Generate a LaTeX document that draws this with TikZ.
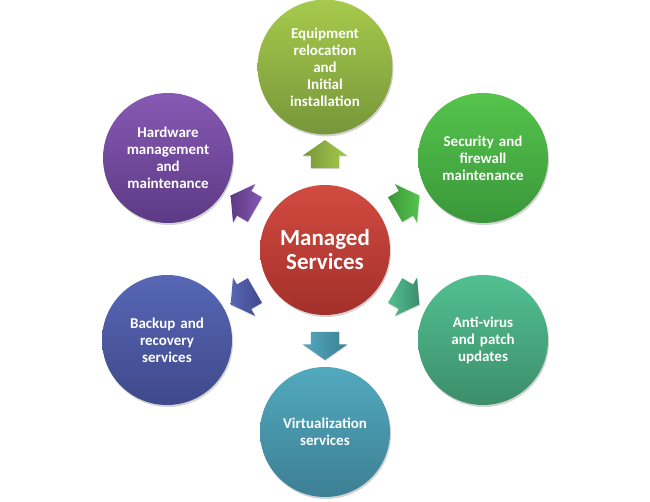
\documentclass[tikz,border=0pt]{standalone}
\usepackage{fontspec}
\setmainfont{Carlito}
\usetikzlibrary{shapes,arrows,positioning,calc,shadows}

\definecolor{redtop}{HTML}{D24B40}\definecolor{redbot}{HTML}{A3302B}
\definecolor{olivetop}{HTML}{A6CA4C}\definecolor{olivebot}{HTML}{77963A}
\definecolor{greentop}{HTML}{55C44C}\definecolor{greenbot}{HTML}{3A973A}
\definecolor{teatop}{HTML}{52C091}\definecolor{teabot}{HTML}{3C8E6A}
\definecolor{cyantop}{HTML}{52A9BE}\definecolor{cyanbot}{HTML}{3D7F94}
\definecolor{bluetop}{HTML}{5767B5}\definecolor{bluebot}{HTML}{3F498B}
\definecolor{purptop}{HTML}{8659B2}\definecolor{purpbot}{HTML}{5D3A85}

\begin{document}
\begin{tikzpicture}[x=1pt, y=1pt,
    service/.style={circle, minimum size=130pt, inner sep=0pt, text width=110pt, align=center,
        text=white, font=\fontsize{15}{17}\selectfont\bfseries,
        drop shadow={shadow xshift=1pt, shadow yshift=-2pt, opacity=0.35}},
    hub/.style={service, font=\fontsize{23}{24}\selectfont\bfseries},
    pointer/.style={single arrow, minimum height=28pt, inner xsep=0pt, inner ysep=14pt,
        single arrow head extend=8pt, single arrow tip angle=110,
        drop shadow={shadow xshift=0.5pt, shadow yshift=-1pt, opacity=0.3}}]
    \useasboundingbox (0,0) rectangle (650,502);

    \node[hub, top color=redtop, bottom color=redbot] (main) at (325,252) {Managed\\Services};

    \node[service, top color=olivetop, bottom color=olivebot] (install) at (325,435)
        {Equipment\\relocation\\and\\Initial\\installation};
    \node[service, top color=greentop, bottom color=greenbot] (security) at (483,344)
        {Security and\\firewall\\maintenance};
    \node[service, top color=teatop, bottom color=teabot] (antivirus) at (483,162)
        {Anti-virus\\and patch\\updates};
    \node[service, top color=cyantop, bottom color=cyanbot] (virtual) at (325,70)
        {Virtualization\\services};
    \node[service, top color=bluetop, bottom color=bluebot] (backup) at (167,162)
        {Backup and\\recovery\\services};
    \node[service, top color=purptop, bottom color=purpbot] (hardware) at (168,344)
        {Hardware\\management\\and\\maintenance};

    % block arrows halfway out
    \node[pointer, rotate=90, left color=olivebot, right color=olivetop] (toinstall) at ($(main)+(90:91)$) {};
    \node[pointer, rotate=30, left color=greenbot, right color=greentop] (tosecurity) at ($(main)+(30:90)$) {};
    \node[pointer, rotate=-30, left color=teatop, right color=teabot] (toantivirus) at ($(main)+(-30:90)$) {};
    \node[pointer, rotate=-90, left color=cyantop, right color=cyanbot] (tovirtual) at ($(main)+(-90:91)$) {};
    \node[pointer, rotate=-150, left color=bluetop, right color=bluebot] (tobackup) at ($(main)+(-150:90)$) {};
    \node[pointer, rotate=150, left color=purpbot, right color=purptop] (tohardware) at ($(main)+(150:90)$) {};
\end{tikzpicture}
\end{document}
